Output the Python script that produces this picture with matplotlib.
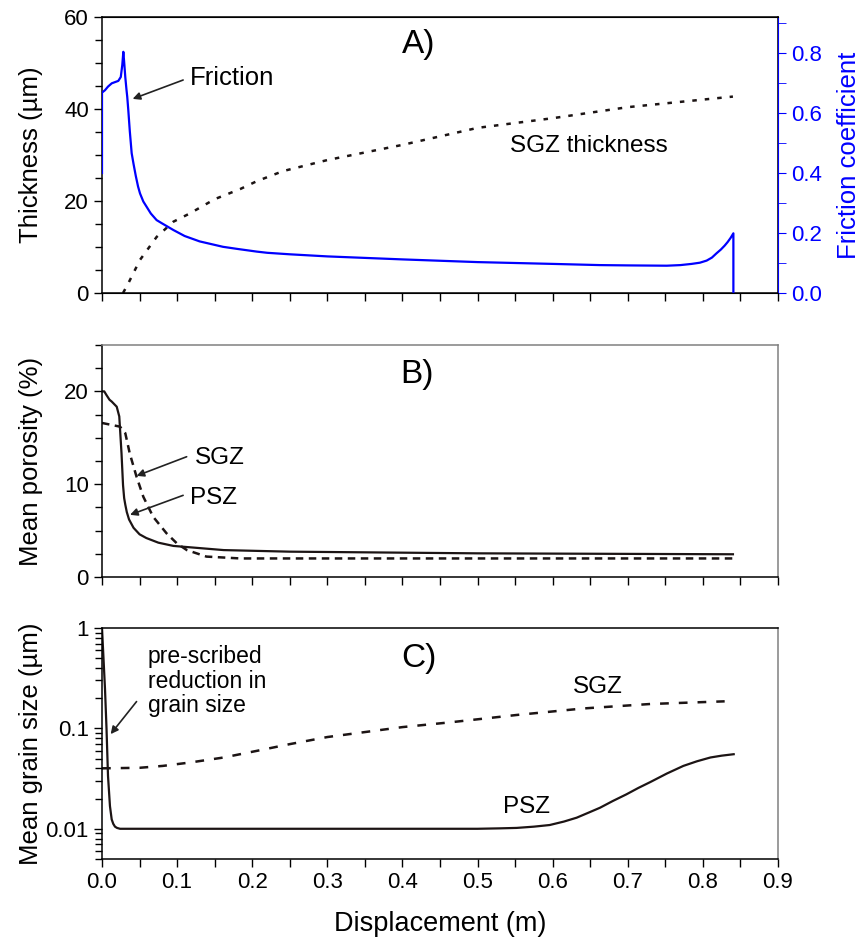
import numpy as np
import matplotlib
matplotlib.use('Agg')
import matplotlib.pyplot as plt
from matplotlib.ticker import MultipleLocator, FormatStrFormatter, LogLocator, NullFormatter, FixedLocator, FixedFormatter

plt.rcParams['font.family'] = ['Liberation Sans', 'DejaVu Sans']

# ---- panel A: friction coefficient (right axis) ----
fric_x = [0.0, 0.0, 0.004, 0.008, 0.013, 0.0217, 0.025, 0.027, 0.0284, 0.0295, 0.031, 0.0325,
          0.0336, 0.035, 0.037, 0.0395, 0.042, 0.045, 0.048, 0.0506, 0.055, 0.065, 0.0727,
          0.08, 0.095, 0.11, 0.13, 0.161, 0.18, 0.206, 0.22, 0.25, 0.30, 0.40, 0.50, 0.60,
          0.663, 0.70, 0.752, 0.77, 0.785, 0.796, 0.805, 0.812, 0.818, 0.824, 0.829, 0.833,
          0.837, 0.8406, 0.8406]
fric_mu = [0.40, 0.668, 0.676, 0.688, 0.699, 0.707, 0.72, 0.76, 0.804, 0.77, 0.72, 0.68,
           0.654, 0.61, 0.54, 0.466, 0.43, 0.39, 0.355, 0.332, 0.305, 0.265, 0.243,
           0.232, 0.21, 0.19, 0.172, 0.154, 0.147, 0.138, 0.134, 0.129, 0.122, 0.112, 0.103, 0.097,
           0.093, 0.092, 0.091, 0.093, 0.097, 0.101, 0.108, 0.118, 0.132, 0.145, 0.158, 0.170,
           0.184, 0.199, 0.0]

# ---- panel A: SGZ thickness (left axis) ----
thick_x = [0.028, 0.035, 0.0506, 0.0728, 0.095, 0.117, 0.150, 0.184, 0.206, 0.241,
           0.30, 0.40, 0.50, 0.60, 0.70, 0.84]
thick_um = [0.0, 2.1, 7.2, 12.2, 15.5, 17.3, 20.4, 22.6, 24.3, 26.5,
            28.9, 32.2, 35.9, 38.0, 40.4, 42.7]

# ---- panel B: mean porosity ----
por_psz_x = [0.0, 0.003, 0.006, 0.010, 0.013, 0.0196, 0.023, 0.026, 0.028, 0.0295, 0.031,
             0.033, 0.036, 0.042, 0.050, 0.059, 0.075, 0.095, 0.162, 0.25, 0.50, 0.84]
por_psz = [20.0, 20.0, 19.6, 19.1, 18.9, 18.35, 17.3, 13.3, 9.9, 8.5, 7.8,
           7.0, 6.2, 5.3, 4.6, 4.2, 3.7, 3.35, 2.9, 2.73, 2.55, 2.45]
por_sgz_x = [0.0, 0.024, 0.031, 0.037, 0.046, 0.055, 0.068, 0.086, 0.100, 0.113, 0.139, 0.184, 0.84]
por_sgz = [16.6, 16.2, 15.5, 13.3, 10.8, 8.65, 6.5, 4.7, 3.6, 2.9, 2.2, 2.0, 2.0]

# ---- panel C: mean grain size ----
gs_psz_x = [0.0, 0.004, 0.006, 0.008, 0.0106, 0.0129, 0.015, 0.0173, 0.020, 0.024, 0.30,
            0.50, 0.53, 0.552, 0.575, 0.596, 0.615, 0.632, 0.648, 0.663, 0.68, 0.698,
            0.714, 0.730, 0.752, 0.774, 0.792, 0.810, 0.825, 0.841]
gs_psz = [1.0, 0.247, 0.1, 0.0336, 0.0168, 0.0124, 0.0112, 0.0105, 0.0102, 0.01, 0.01,
          0.01, 0.0101, 0.0102, 0.0105, 0.0109, 0.0118, 0.0129, 0.0145, 0.0162, 0.0189, 0.022,
          0.0255, 0.0292, 0.0355, 0.0423, 0.047, 0.0513, 0.0535, 0.0553]
gs_sgz_x = [0.0, 0.05, 0.081, 0.117, 0.162, 0.206, 0.25, 0.30, 0.40, 0.463,
            0.552, 0.641, 0.730, 0.829]
gs_sgz = [0.040, 0.0405, 0.0423, 0.0457, 0.0513, 0.0597, 0.0697, 0.082, 0.103, 0.1148,
          0.136, 0.158, 0.175, 0.186]

BLUE = '#0000ff'
INK = '#1c1414'
TICK = 16
LAB = 18.5
ANN = 17.5

fig = plt.figure(figsize=(8.62, 9.41), dpi=100)
W, H = 862.0, 941.0
def box(top, bottom):
    return [102 / W, 1 - bottom / H, 676 / W, (bottom - top) / H]

axA = fig.add_axes(box(17, 293))
axB = fig.add_axes(box(345, 577))
axC = fig.add_axes(box(628, 859))
axA2 = axA.twinx()

arrow = dict(arrowstyle='-|>', color='#222222', lw=1.2, mutation_scale=11, shrinkA=0, shrinkB=0)

# panel A
axA.plot(thick_x, thick_um, color=INK, lw=1.8, linestyle=(0, (1.8, 3.2)))
axA2.plot(fric_x, fric_mu, color=BLUE, lw=1.6)
axA.set_ylim(0, 60)
axA2.set_ylim(0, 0.92)
axA.yaxis.set_major_locator(MultipleLocator(20))
axA.yaxis.set_minor_locator(MultipleLocator(5))
axA2.yaxis.set_major_locator(MultipleLocator(0.2))
axA2.yaxis.set_minor_locator(MultipleLocator(0.1))
axA2.yaxis.set_major_formatter(FormatStrFormatter('%.1f'))
axA.set_ylabel('Thickness (µm)', fontsize=LAB)
axA2.set_ylabel('Friction coefficient', fontsize=LAB, color=BLUE)
axA2.tick_params(axis='y', which='both', colors=BLUE, labelsize=TICK, direction='out', length=6)
axA2.spines['right'].set_color(BLUE)
axA2.spines['left'].set_visible(False)
axA.text(0.399, 52.1, 'A)', fontsize=24, va='baseline')
axA.text(0.117, 45.2, 'Friction', fontsize=18.5, va='baseline')
axA.text(0.543, 30.65, 'SGZ thickness', fontsize=ANN, va='baseline')
axA.annotate('', xy=(0.0408, 42.2), xytext=(0.108, 46.3), arrowprops=arrow)

# panel B
axB.plot(por_psz_x, por_psz, color=INK, lw=1.6)
axB.plot(por_sgz_x, por_sgz, color=INK, lw=1.8, linestyle=(0, (3, 2.2)))
axB.set_ylim(0, 25)
axB.yaxis.set_major_locator(MultipleLocator(10))
axB.yaxis.set_minor_locator(MultipleLocator(2.5))
axB.set_ylabel('Mean porosity (%)', fontsize=LAB)
axB.text(0.397, 20.9, 'B)', fontsize=24, va='baseline')
axB.text(0.124, 12.2, 'SGZ', fontsize=ANN, va='baseline')
axB.text(0.117, 7.83, 'PSZ', fontsize=ANN, va='baseline')
axB.annotate('', xy=(0.046, 10.9), xytext=(0.1127, 12.96), arrowprops=arrow)
axB.annotate('', xy=(0.0373, 6.7), xytext=(0.108, 8.8), arrowprops=arrow)

# panel C
axC.plot(gs_psz_x, gs_psz, color=INK, lw=1.6)
axC.plot(gs_sgz_x, gs_sgz, color=INK, lw=1.8, linestyle=(0, (3.5, 4)))
axC.set_yscale('log')
axC.set_ylim(0.005, 1.0)
axC.yaxis.set_major_locator(FixedLocator([0.01, 0.1, 1.0]))
axC.yaxis.set_major_formatter(FixedFormatter(['0.01', '0.1', '1']))
axC.yaxis.set_minor_locator(LogLocator(base=10, subs=np.arange(2, 10)))
axC.yaxis.set_minor_formatter(NullFormatter())
axC.set_ylabel('Mean grain size (µm)', fontsize=LAB)
axC.set_xlabel('Displacement (m)', fontsize=19.5)
axC.text(0.399, 0.407, 'C)', fontsize=24, va='baseline')
axC.text(0.0608, 0.67, 'pre-scribed\nreduction in\ngrain size', fontsize=16.5,
         va='top', linespacing=1.08)
axC.text(0.6275, 0.2255, 'SGZ', fontsize=ANN, va='baseline')
axC.text(0.5334, 0.01445, 'PSZ', fontsize=ANN, va='baseline')
axC.annotate('', xy=(0.0115, 0.0877), xytext=(0.046, 0.185), arrowprops=arrow)

for ax in (axA, axB, axC):
    ax.set_xlim(0, 0.9)
    ax.xaxis.set_major_locator(MultipleLocator(0.1))
    ax.xaxis.set_minor_locator(MultipleLocator(0.05))
    ax.tick_params(axis='both', which='both', direction='out', length=6, width=1,
                   labelsize=TICK, top=False, right=False)
    ax.tick_params(axis='y', which='minor', length=5)
    ax.yaxis.set_label_coords(-0.087, 0.5)
    for s in ax.spines.values():
        s.set_linewidth(1.1)
for ax in (axA, axB):
    ax.tick_params(axis='x', which='both', labelbottom=False)
for ax in (axB, axC):
    ax.spines['right'].set_color('#808080')
axB.spines['top'].set_color('#808080')
axC.xaxis.set_major_formatter(FormatStrFormatter('%.1f'))
axC.xaxis.set_label_coords(0.5, -0.225)
axA2.yaxis.set_label_coords(1.087, 0.5)

fig.savefig('out.png', dpi=100)
